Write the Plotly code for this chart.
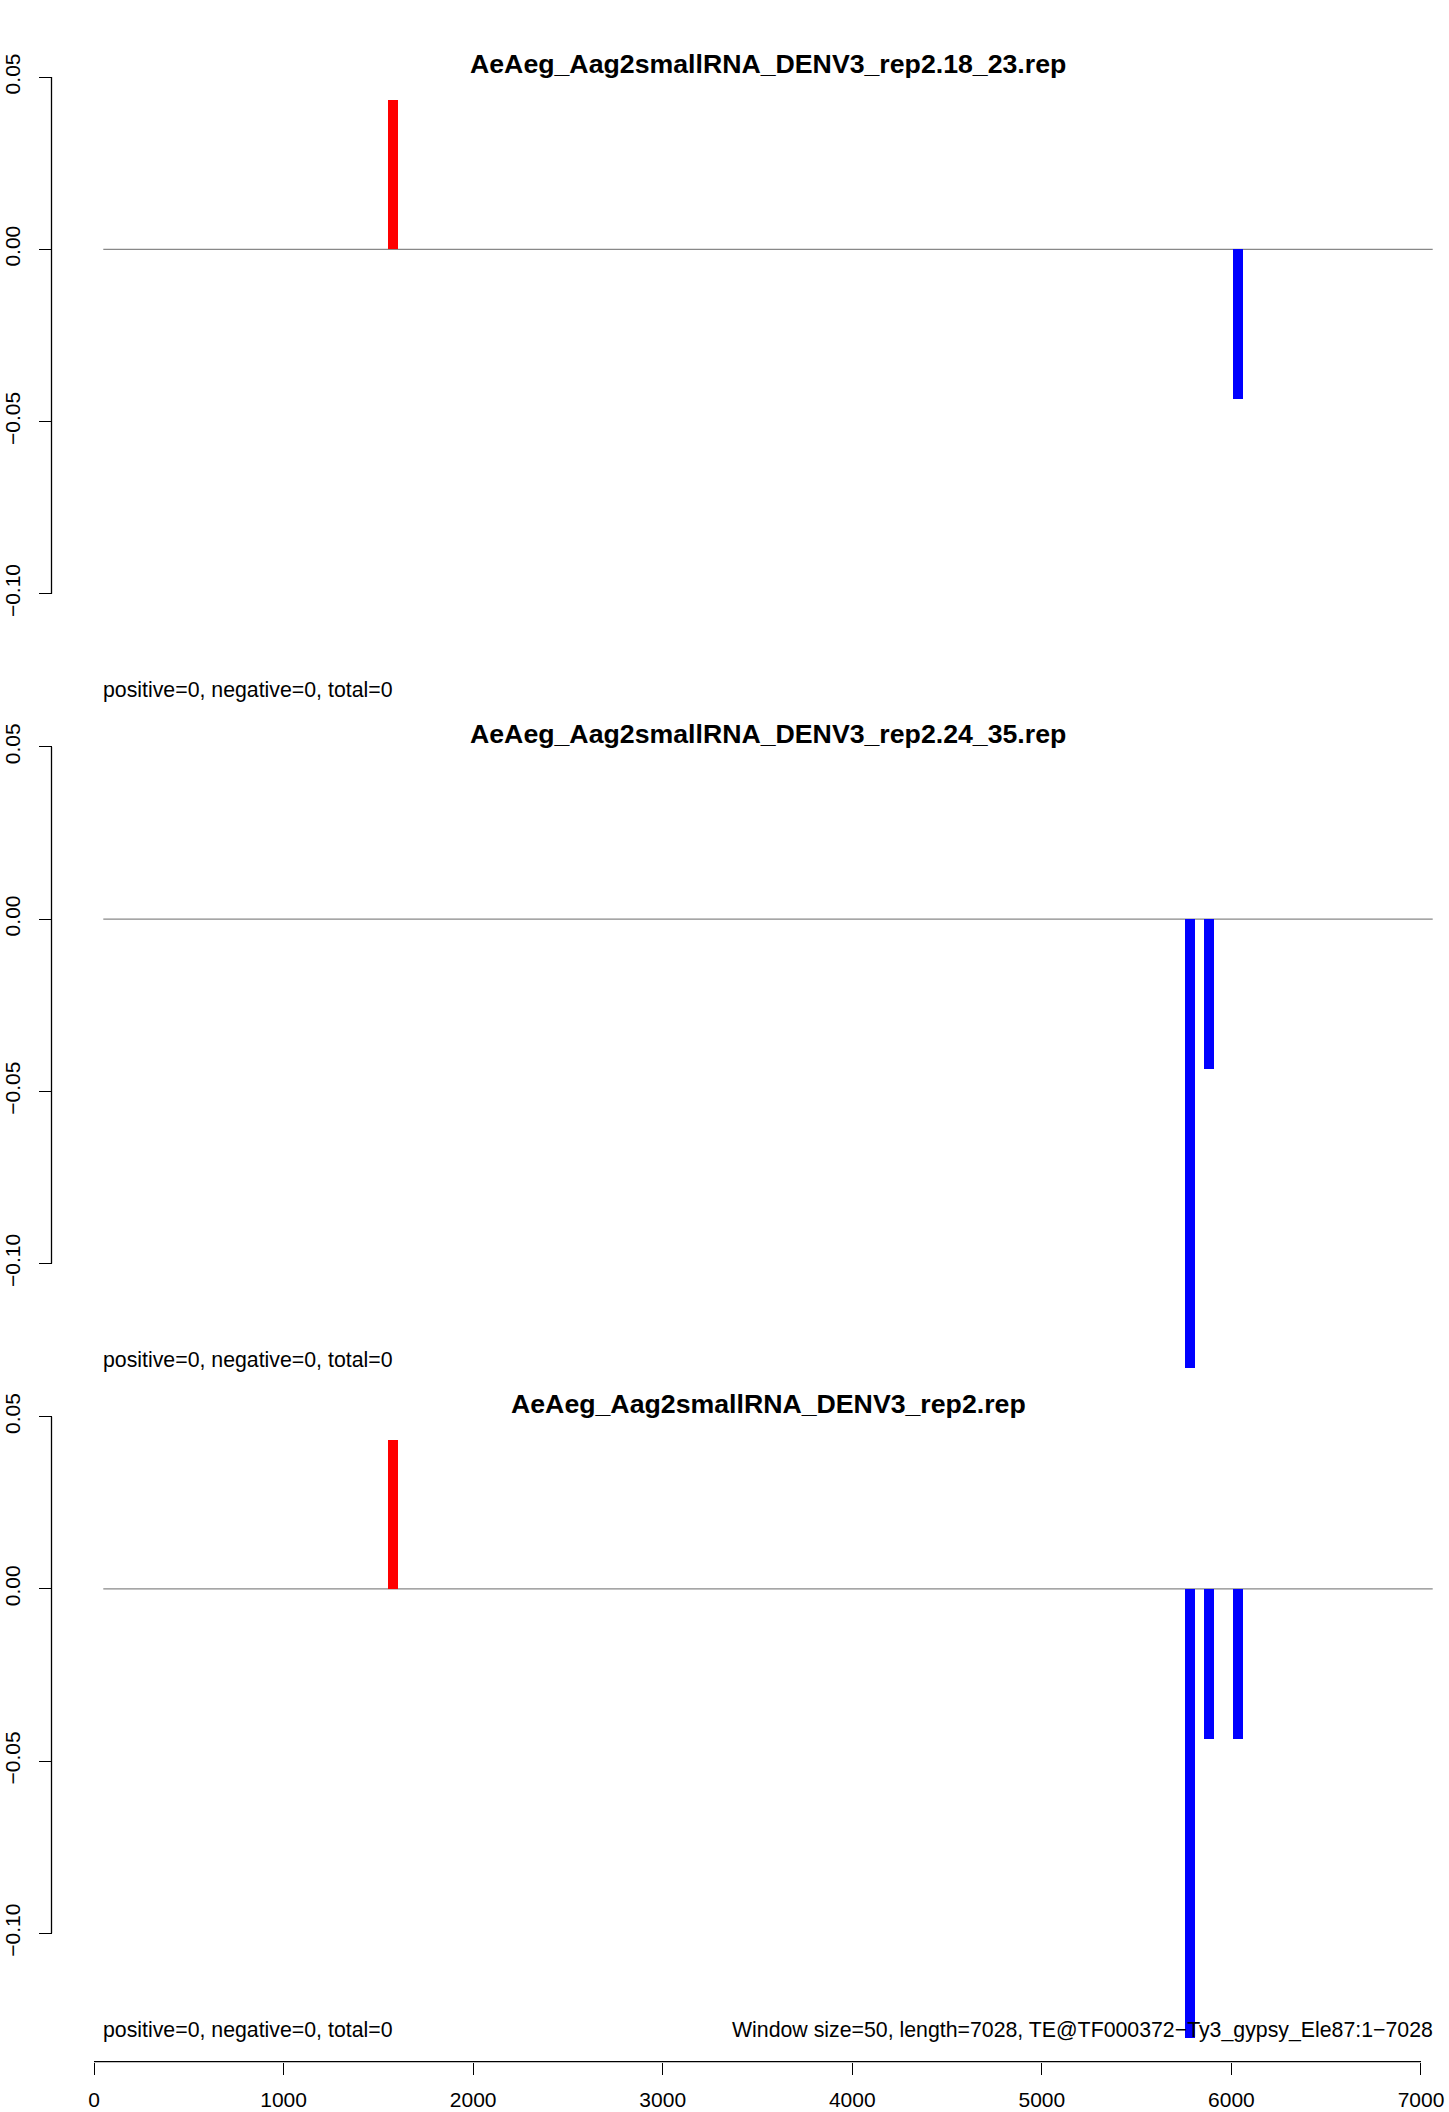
import plotly.graph_objects as go

# ---------------- data ----------------
titles = ["AeAeg_Aag2smallRNA_DENV3_rep2.18_23.rep",
          "AeAeg_Aag2smallRNA_DENV3_rep2.24_35.rep",
          "AeAeg_Aag2smallRNA_DENV3_rep2.rep"]
pos_x = [[1577], [], [1577]]
pos_y = [[0.0434], [], [0.0434]]
neg_x = [[6035], [5782, 5882], [5782, 5882, 6035]]
neg_y = [[-0.0434], [-0.1302, -0.0434], [-0.1302, -0.0434, -0.0434]]
stats_text = ["positive=0, negative=0, total=0"] * 3
footer_text = "Window size=50, length=7028, TE@TF000372\u2212Ty3_gypsy_Ele87:1\u22127028"
ytick_vals = [-0.10, -0.05, 0.0, 0.05]
ytick_text = ["\u22120.10", "\u22120.05", "0.00", "0.05"]
xtick_vals = [0, 1000, 2000, 3000, 4000, 5000, 6000, 7000]
xtick_text = ["0", "1000", "2000", "3000", "4000", "5000", "6000", "7000"]

# ---------------- layout geometry (pixels) ----------------
W, H = 1449, 2112
FONT = "Liberation Sans, Arial, Helvetica, sans-serif"
def pyp(p):
    return 1 - p / H
def pxp(p):
    return p / W

offsets = [0.0, 669.8, 1339.6]
zero_px0 = 249.3
ppu = 3444.0            # pixels per y unit
x_px0, x_scale = 94.0, 0.18957   # x=0 at px 94
dom_l, dom_r = 90.0, 1436.0
xr = [(dom_l - x_px0) / x_scale, (dom_r - x_px0) / x_scale]
yaxis_px = 51.5
plot_l, plot_r = 103.3, 1432.7
bottom_axis_px = 2061.7

fig = go.Figure()
layout = dict(width=W, height=H, margin=dict(l=0, r=0, t=0, b=0, pad=0, autoexpand=False),
              paper_bgcolor="white", plot_bgcolor="rgba(0,0,0,0)", template="none",
              showlegend=False, bargap=0, font=dict(family=FONT, size=21, color="black"))
shapes = []
annotations = []

for k in range(3):
    d = offsets[k]
    zpx = zero_px0 + d
    top = d
    bot = d + 800 if k < 2 else bottom_axis_px
    yr = [(zpx - bot) / ppu, (zpx - top) / ppu]
    xs = "x" if k == 0 else f"x{k+1}"
    ys = "y" if k == 0 else f"y{k+1}"
    xname = "xaxis" if k == 0 else f"xaxis{k+1}"
    yname = "yaxis" if k == 0 else f"yaxis{k+1}"

    if pos_x[k]:
        fig.add_trace(go.Bar(x=pos_x[k], y=pos_y[k], width=53, marker=dict(color="#FF0000", line=dict(width=0)),
                             xaxis=xs, yaxis=ys, cliponaxis=False))
    if neg_x[k]:
        fig.add_trace(go.Bar(x=neg_x[k], y=neg_y[k], width=53, marker=dict(color="#0000FF", line=dict(width=0)),
                             xaxis=xs, yaxis=ys, cliponaxis=False))

    xa = dict(domain=[pxp(dom_l), pxp(dom_r)], range=xr, anchor=ys, showgrid=False, zeroline=False,
              showline=False, automargin=False)
    if k < 2:
        xa.update(showticklabels=False, ticks="")
    else:
        xa.update(tickmode="array", tickvals=xtick_vals, ticktext=xtick_text, ticks="outside",
                  ticklen=12.3, tickwidth=1.3, tickcolor="black",
                  tickfont=dict(family=FONT, size=21, color="black"), ticklabelstandoff=7)
    layout[xname] = xa
    layout[yname] = dict(domain=[pyp(bot), pyp(top)], range=yr, anchor="free", position=pxp(yaxis_px),
                         showgrid=False, zeroline=False, showline=False, automargin=False,
                         tickmode="array", tickvals=ytick_vals, ticktext=ytick_text,
                         ticks="outside", ticklen=12.5, tickwidth=1.3, tickcolor="black",
                         tickangle=-90, ticklabelstandoff=11,
                         tickfont=dict(family=FONT, size=21, color="black"))

    shapes.append(dict(type="line", xref="paper", yref=ys, x0=pxp(plot_l), x1=pxp(plot_r), y0=0, y1=0,
                       line=dict(color="#888888", width=1.3), layer="below"))
    shapes.append(dict(type="line", xref="paper", yref=ys, x0=pxp(yaxis_px), x1=pxp(yaxis_px),
                       y0=ytick_vals[0], y1=ytick_vals[-1], line=dict(color="black", width=1.3)))
    annotations.append(dict(text="<b>" + titles[k] + "</b>", xref="paper", yref="paper",
                            x=pxp((plot_l + plot_r) / 2), y=pyp(64 + d), xanchor="center", yanchor="middle",
                            showarrow=False, font=dict(family=FONT, size=26.7, color="black")))
    annotations.append(dict(text=stats_text[k], xref="paper", yref="paper",
                            x=pxp(plot_l - 2), y=pyp(690.5 + d), xanchor="left", yanchor="middle",
                            showarrow=False, font=dict(family=FONT, size=21.3, color="black")))

annotations.append(dict(text=footer_text, xref="paper", yref="paper",
                        x=pxp(plot_r + 2), y=pyp(690.5 + offsets[2]), xanchor="right", yanchor="middle",
                        showarrow=False, font=dict(family=FONT, size=21.3, color="black")))
shapes.append(dict(type="line", xref="x3", yref="paper", x0=xtick_vals[0], x1=xtick_vals[-1],
                   y0=pyp(bottom_axis_px), y1=pyp(bottom_axis_px), line=dict(color="black", width=1.3)))

layout["shapes"] = shapes
layout["annotations"] = annotations
fig.update_layout(**layout)

fix_page = ("document.documentElement.style.margin='0';document.body.style.margin='0';"
            "document.documentElement.style.overflow='hidden';document.body.style.overflow='hidden';")
fig.write_html("out.html", config={"displayModeBar": False}, post_script=fix_page)
